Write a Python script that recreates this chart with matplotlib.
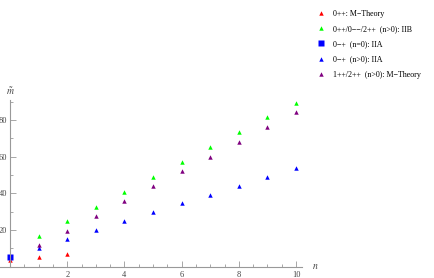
import numpy as np
import matplotlib
matplotlib.use("Agg")
import matplotlib.pyplot as plt

plt.rcParams['font.family'] = ['Liberation Serif', 'DejaVu Serif']
plt.rcParams['mathtext.fontset'] = 'stix'

# data
n_red = [0, 1, 2]
m_red = [3.7, 5.5, 7.0]

n_green = [1, 2, 3, 4, 5, 6, 7, 8, 9, 10]
m_green = [16.9, 24.7, 32.7, 40.9, 49.1, 57.3, 65.3, 73.5, 81.7, 89.5]

n_sq = [0]
m_sq = [5.1]

n_blue = [1, 2, 3, 4, 5, 6, 7, 8, 9, 10]
m_blue = [10.4, 15.3, 20.0, 24.9, 29.8, 34.6, 39.3, 44.0, 48.9, 53.8]

n_purple = [1, 2, 3, 4, 5, 6, 7, 8, 9, 10]
m_purple = [11.6, 19.6, 27.6, 35.8, 44.0, 52.4, 60.0, 68.2, 76.4, 84.6]

labels = ["0++: M\u2212Theory",
          "0++/0\u2212\u2212/2++  (n>0): IIB",
          "0\u2212+  (n=0): IIA",
          "0\u2212+  (n>0): IIA",
          "1++/2++  (n>0): M\u2212Theory"]

x_major = [2, 4, 6, 8, 10]
y_major = [20, 40, 60, 80]

fig = plt.figure(figsize=(4.35, 2.78), dpi=100)
ax = fig.add_axes([0, 0, 1, 1])
ax.patch.set_alpha(0)

ms = 3.2
ax.plot(n_red, m_red, '^', color=(1, 0, 0), ms=ms, mec='none', label=labels[0])
ax.plot(n_green, m_green, '^', color=(0, 1, 0), ms=ms, mec='none', label=labels[1])
ax.plot(n_sq, m_sq, 's', color=(0, 0, 1), ms=3.8, mec='none', label=labels[2])
ax.plot(n_blue, m_blue, '^', color=(0, 0, 1), ms=ms, mec='none', label=labels[3])
ax.plot(n_purple, m_purple, '^', color=(0.5, 0, 0.5), ms=ms, mec='none', label=labels[4])

ax.set_xlim(-0.35, 14.86)
ax.set_ylim(-6.16, 145.5)

for s in ['top', 'right']:
    ax.spines[s].set_visible(False)
ax.spines['left'].set_position(('data', 0))
ax.spines['bottom'].set_position(('data', 0))
ax.spines['left'].set_bounds(0, 91)
ax.spines['bottom'].set_bounds(-0.35, 10.2)
for s in ['left', 'bottom']:
    ax.spines[s].set_color('#999999')
    ax.spines[s].set_linewidth(0.8)

ax.set_xticks(x_major)
ax.set_xticks([t for t in np.arange(0.5, 10.01, 0.5) if t % 2 != 0], minor=True)
ax.set_yticks(y_major)
ax.set_yticks([10, 30, 50, 70, 90], minor=True)
ax.tick_params(which='both', direction='in', color='#999999', width=0.6,
               labelsize=6, labelcolor='#444444')
ax.tick_params(which='major', length=4)
ax.tick_params(which='minor', length=2)
ax.tick_params(axis='x', pad=3)
ax.tick_params(axis='y', pad=2)

ax.text(10.55, 0, "$n$", fontsize=7, color='#444444', va='center', ha='left')
ax.text(0, 96, r"$\tilde{m}$", fontsize=7, color='#444444', va='center', ha='center')

ax.legend(loc='upper left', bbox_to_anchor=(0.715, 0.985), frameon=False,
          fontsize=5.8, handletextpad=1.0, labelspacing=0.9, borderaxespad=0.3,
          handlelength=1.0, markerscale=1.0)

fig.savefig("out.png", dpi=100)
